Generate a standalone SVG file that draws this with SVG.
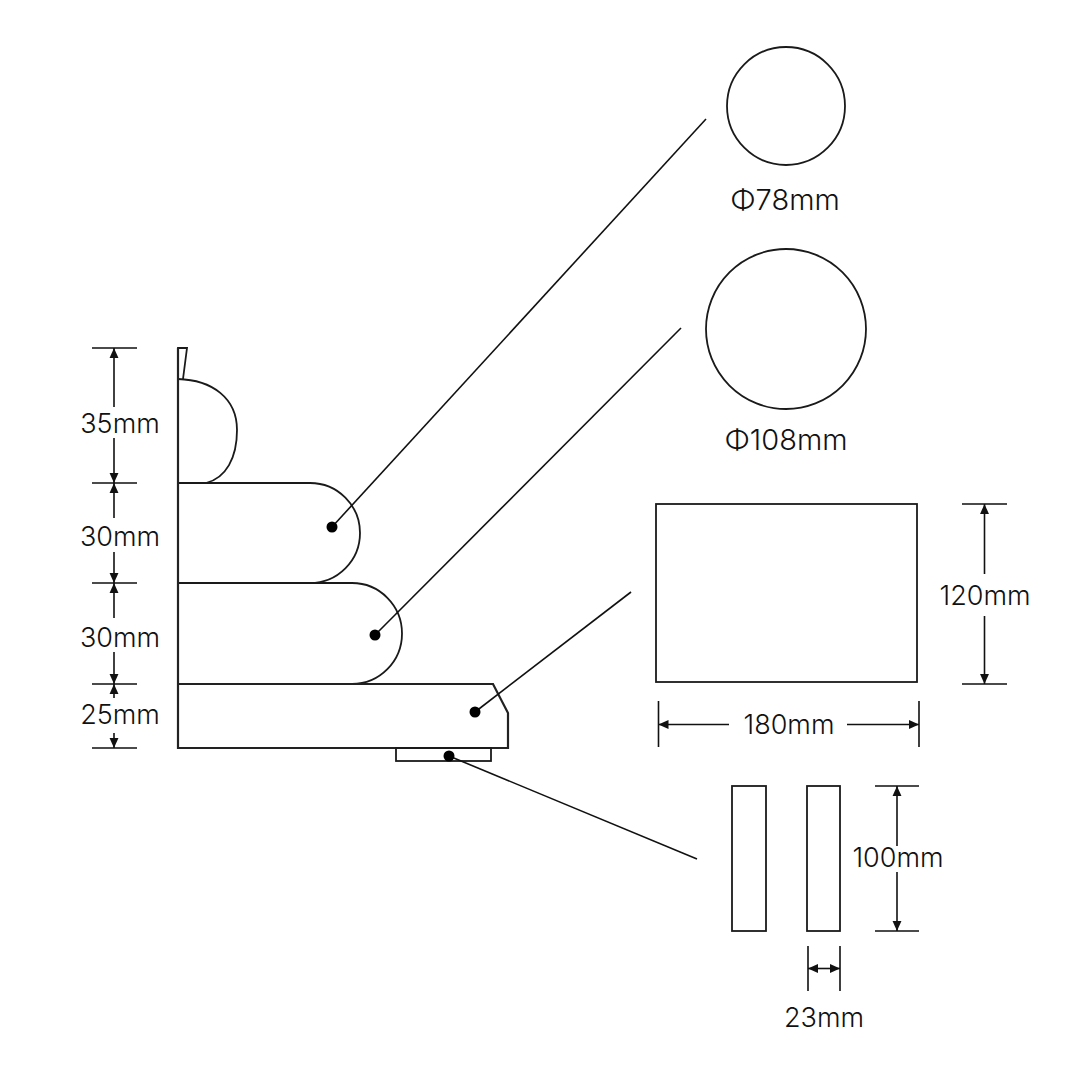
<svg xmlns="http://www.w3.org/2000/svg" width="1080" height="1080" viewBox="0 0 1080 1080">
<style>
.o{fill:none;stroke:#1a1a1a;stroke-width:1.8}
.g{fill:none;stroke:#222;stroke-width:2.2}
.d{fill:none;stroke:#111;stroke-width:1.6}
.e{fill:none;stroke:#111;stroke-width:1.6;marker-end:url(#ae)}
.a{fill:none;stroke:#111;stroke-width:1.6;marker-start:url(#ah);marker-end:url(#ah)}
.l{fill:none;stroke:#111;stroke-width:1.6}
.p{fill:#000}
.t{font-family:"Inter","Liberation Sans",sans-serif;font-weight:300;font-size:27px;fill:#111;text-anchor:middle}
.b{font-size:29px}
</style>
<defs>
<marker id="ah" markerUnits="userSpaceOnUse" markerWidth="10" markerHeight="10" refX="9" refY="4" orient="auto-start-reverse" viewBox="0 0 9 8"><path d="M0,0 L9,4 L0,8 Z" fill="#111"/></marker>
<marker id="ae" markerUnits="userSpaceOnUse" markerWidth="10" markerHeight="10" refX="9" refY="4" orient="auto" viewBox="0 0 9 8"><path d="M0,0 L9,4 L0,8 Z" fill="#111"/></marker>
</defs>
<g id="seat">
<path class="o" d="M178,379 V348 H187 L183,379"/>
<path class="o" d="M178,379 C212,380 237,398 237,430 C237,458 226,478 206,483"/>
<path class="o" d="M178,483 H310 A50,50 0 0 1 310,583 H178"/>
<path class="o" d="M178,583 H352 A50,50.500 0 0 1 352,684"/>
<path class="g" d="M178,348 V748 H508 V713 L493,684 H178"/>
<rect class="o" x="396" y="748" width="95" height="13"/>
</g>
<g id="connectors">
<path class="l" d="M332,527 L706,119"/>
<path class="l" d="M375,635 L681,328"/>
<path class="l" d="M475,712 L631,592"/>
<path class="l" d="M449,756 L697,859"/>
<circle class="p" cx="332" cy="527" r="5.500"/>
<circle class="p" cx="375" cy="635" r="5.500"/>
<circle class="p" cx="475" cy="712" r="5.500"/>
<circle class="p" cx="449" cy="756" r="5.500"/>
</g>
<g id="circle-78"><circle class="o" cx="786" cy="106" r="59"/><text class="t b" x="785" y="210">Φ78mm</text></g>
<g id="circle-108"><circle class="o" cx="786" cy="329" r="80"/><text class="t b" x="786" y="450">Φ108mm</text></g>
<g id="rect-180"><rect class="o" x="656" y="504" width="261" height="178"/></g>
<g id="rect-a"><rect class="o" x="732" y="786" width="34" height="145"/></g>
<g id="rect-b"><rect class="o" x="807" y="786" width="33" height="145"/></g>
<g id="dims">
<path class="d" d="M92,348 H137 M92,483 H137 M92,583 H137 M92,684 H137 M92,748 H137"/>
<path class="e" d="M114,407 V348"/><path class="e" d="M114,438 V483"/>
<path class="e" d="M114,518 V483"/><path class="e" d="M114,552 V583"/>
<path class="e" d="M114,618 V583"/><path class="e" d="M114,652 V684"/>
<path class="e" d="M114,698 V684"/><path class="e" d="M114,733 V748"/>
<text class="t" x="120" y="433">35mm</text>
<text class="t" x="120" y="546">30mm</text>
<text class="t" x="120" y="647">30mm</text>
<text class="t" x="120" y="724">25mm</text>
<path class="d" d="M962,504 H1007 M962,684 H1007"/>
<path class="e" d="M984.500,574 V504"/><path class="e" d="M984.500,616 V684"/>
<text class="t" x="985" y="605">120mm</text>
<path class="d" d="M658.500,701 V747 M919,701 V747"/>
<path class="e" d="M729,724.500 H658.500"/><path class="e" d="M847,724.500 H919"/>
<text class="t" x="789" y="734">180mm</text>
<path class="d" d="M875,786 H919 M875,931 H919"/>
<path class="e" d="M897,846 V786"/><path class="e" d="M897,872 V931"/>
<text class="t" x="898" y="867">100mm</text>
<path class="d" d="M808,946 V991 M840,946 V991"/>
<path class="a" d="M808,968.500 H840"/>
<text class="t" x="824" y="1027">23mm</text>
</g>
</svg>
